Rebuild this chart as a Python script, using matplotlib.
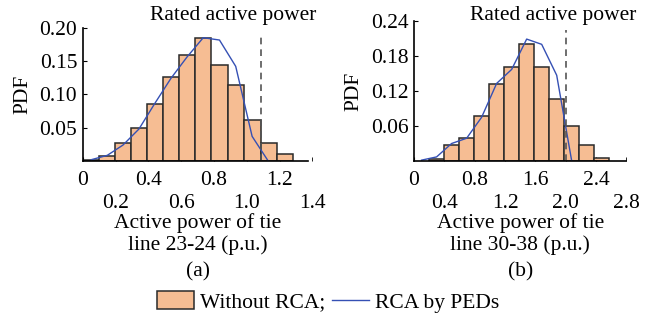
import numpy as np
import matplotlib
matplotlib.use("Agg")
import matplotlib.pyplot as plt
from matplotlib.patches import Patch
from matplotlib.lines import Line2D

plt.rcParams['font.family'] = ['Liberation Serif', 'DejaVu Serif']
plt.rcParams['font.size'] = 15.5

# (a) tie line 23-24
edges_a = [0.005, 0.102, 0.197, 0.295, 0.390, 0.488, 0.589, 0.687, 0.785,
           0.884, 0.984, 1.085, 1.183, 1.280]
pdf_a = [0.001, 0.008, 0.0265, 0.049, 0.0855, 0.126, 0.159, 0.1845, 0.1435,
         0.1135, 0.062, 0.0275, 0.010]
rca_x_a = [0.053, 0.150, 0.246, 0.343, 0.440, 0.538, 0.636, 0.735, 0.834,
           0.933, 1.033, 1.131]
rca_y_a = [0.002, 0.0085, 0.024, 0.048, 0.0865, 0.124, 0.156, 0.185, 0.1815,
           0.142, 0.037, 0.0]
rated_a = 1.09

# (b) tie line 30-38
edges_b = [0.2, 0.4, 0.598, 0.796, 0.993, 1.191, 1.389, 1.587, 1.785, 1.982,
           2.18, 2.378, 2.576]
pdf_b = [0.003, 0.027, 0.039, 0.078, 0.1326, 0.1606, 0.2, 0.1606, 0.106,
         0.0594, 0.027, 0.005]
rca_x_b = [0.1, 0.298, 0.496, 0.694, 0.892, 1.09, 1.288, 1.486, 1.684, 1.882, 2.08]
rca_y_b = [0.0015, 0.007, 0.030, 0.039, 0.075, 0.133, 0.157, 0.209, 0.200, 0.147, 0.0]
rated_b = 2.0

xt_a = [0, 0.4, 0.8, 1.2]
xt_a2 = [0.2, 0.6, 1.0, 1.4]
yt_a = [0.05, 0.10, 0.15, 0.20]
xt_b = [0, 0.8, 1.6, 2.4]
xt_b2 = [0.4, 1.2, 2.0, 2.8]
yt_b = [0.06, 0.12, 0.18, 0.24]

bar_c = '#F6BD93'
line_c = '#3550B4'

W, H = 662, 320
fig = plt.figure(figsize=(6.62, 3.2), dpi=100)


def px(x0, y0, x1, y1):
    # pixel box -> figure fraction [left, bottom, w, h]
    return [x0 / W, 1 - y1 / H, (x1 - x0) / W, (y1 - y0) / H]


def panel(rect, edges, pdf, lx, ly, rated, rated_top, xlim, ylim,
          xt1, xt2, yt, txt_xy, xl, tag):
    ax = fig.add_axes(rect)
    e = np.array(edges)
    ax.bar(e[:-1], pdf, width=np.diff(e), align='edge', color=bar_c,
           edgecolor='#2a2a2a', linewidth=1.1, zorder=2)
    ax.plot(lx, ly, color=line_c, lw=1.0, zorder=3)
    ax.vlines(rated, 0, rated_top, colors='#555555', linestyles=(0, (4, 3)),
              lw=1.2, zorder=4)
    ax.set_xlim(*xlim)
    ax.set_ylim(*ylim)
    for s in ['top', 'right']:
        ax.spines[s].set_visible(False)
    for s in ['left', 'bottom']:
        ax.spines[s].set_linewidth(1.2)
        ax.spines[s].set_zorder(5)
    ax.set_xticks(xt1)
    ax.set_xticklabels([f'{v:g}' if v == 0 else f'{v:.1f}' for v in xt1])
    ax.set_xticks(xt2, minor=True)
    ax.set_xticklabels([f'{v:.1f}' for v in xt2], minor=True)
    ax.set_yticks(yt)
    ax.set_yticklabels([f'{v:.2f}' for v in yt])
    ax.tick_params(axis='x', which='major', direction='in', length=3, pad=7)
    ax.tick_params(axis='x', which='minor', direction='in', length=3, pad=23.5)
    ax.tick_params(axis='y', direction='in', length=3, pad=4)
    ax.text(txt_xy[0], txt_xy[1], 'Rated active power', ha='center',
            va='baseline', clip_on=False)
    bb = ax.get_position()
    cx = (bb.x0 + bb.x1) / 2
    fig.text(cx, 1 - 223 / H, xl[0], ha='center', va='center')
    fig.text(cx, 1 - 245 / H, xl[1], ha='center', va='center')
    fig.text(cx, 1 - 272 / H, tag, ha='center', va='center')
    fig.text(bb.x0 - 60 / W, (bb.y0 + bb.y1) / 2, 'PDF', rotation=90,
             ha='center', va='center')
    return ax


ax1 = panel(px(82.7, 27.7, 312.3, 161), edges_a, pdf_a, rca_x_a, rca_y_a,
            rated_a, 0.192, (0, 1.4), (0, 0.20), xt_a, xt_a2, yt_a,
            (0.92, 0.212), ['Active power of tie', 'line 23-24 (p.u.)'], '(a)')
ax1.spines['bottom'].set_bounds(0, 1.376)

ax2 = panel(px(414, 21, 626.3, 161), edges_b, pdf_b, rca_x_b, rca_y_b,
            rated_b, 0.2246, (0, 2.8), (0, 0.24), xt_b, xt_b2, yt_b,
            (1.84, 0.242), ['Active power of tie', 'line 30-38 (p.u.)'], '(b)')

handles = [Patch(facecolor=bar_c, edgecolor='#2a2a2a', linewidth=1.1),
           Line2D([], [], color=line_c, lw=1.0)]
fig.legend(handles, ['Without RCA;', 'RCA by PEDs'], loc='center',
           bbox_to_anchor=(328 / W, 1 - 302 / H), ncol=2, frameon=False,
           handlelength=1.72, handleheight=0.85, handletextpad=0.28,
           columnspacing=0.33, borderpad=0.0, borderaxespad=0.0)

fig.savefig('out.png', dpi=100)
